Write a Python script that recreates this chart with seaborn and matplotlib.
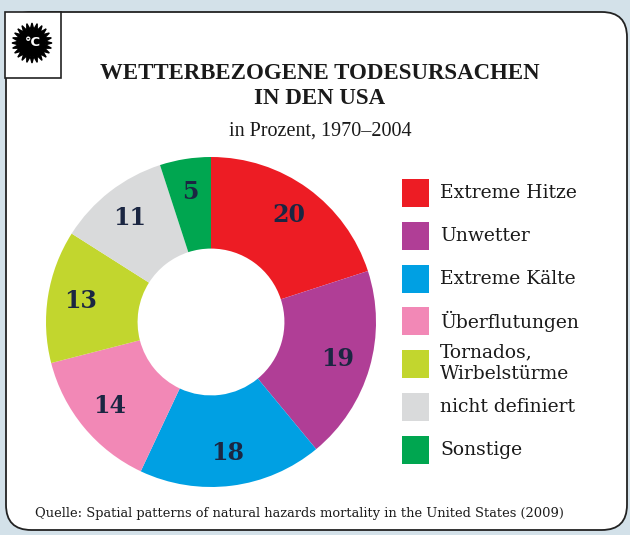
import numpy as np
import matplotlib
matplotlib.use("Agg")
import matplotlib.pyplot as plt
import seaborn as sns
from matplotlib.patches import FancyBboxPatch, Rectangle, Polygon

categories = ["Extreme Hitze", "Unwetter", "Extreme Kälte", "Überflutungen",
              "Tornados,\nWirbelstürme", "nicht definiert", "Sonstige"]
values = [20, 19, 18, 14, 13, 11, 5]
colors = ["#ed1c24", "#b03e96", "#00a0e3", "#f288b6", "#c2d62e", "#d9dadb", "#00a650"]
title = "WETTERBEZOGENE TODESURSACHEN\nIN DEN USA"
subtitle = "in Prozent, 1970–2004"
source = "Quelle: Spatial patterns of natural hazards mortality in the United States (2009)"

sns.set_theme(style="white")
plt.rcParams['font.family'] = ['Liberation Serif', 'DejaVu Serif']

W, H = 630, 535
fig = plt.figure(figsize=(W / 100, H / 100), dpi=100)
fig.patch.set_facecolor("#d3e1e9")

def fx(x):
    return x / W

def fy(y):
    return 1 - y / H

#----------------white panel with rounded corners (behind the axes)-----------------
panel = FancyBboxPatch((fx(6), fy(530)), fx(621), (530 - 12) / H,
                       boxstyle="round,pad=0,rounding_size=0.04",
                       transform=fig.transFigure, facecolor="white",
                       edgecolor="#222222", linewidth=1.3, mutation_aspect=W / H,
                       zorder=-2)
fig.patches.append(panel)
box = Rectangle((fx(5), fy(78)), fx(56), (78 - 12) / H, transform=fig.transFigure,
                facecolor="white", edgecolor="#222222", linewidth=1.2, zorder=-1)
fig.patches.append(box)

#----------------icon: spiky ball with °C-----------------
ang = np.linspace(0, 2 * np.pi, 49)[:-1]
rad = np.where(np.arange(48) % 2 == 0, 1.0, 0.68)
ix, iy = 32, 43
pts = [(fx(ix + 20 * r * np.cos(a)), fy(iy + 20 * r * np.sin(a))) for r, a in zip(rad, ang)]
fig.patches.append(Polygon(pts, closed=True, transform=fig.transFigure,
                           facecolor="black", edgecolor="black", zorder=-0.5))
fig.text(fx(ix + 1), fy(iy), "°C", color="white", fontsize=9.5, fontweight="bold",
         ha="center", va="center", family=["DejaVu Sans"])

#----------------titles-----------------
fig.text(fx(320), fy(86), title, ha="center", va="center", fontsize=16.5,
         fontweight="bold", color="#1a1a1a", linespacing=1.25)
fig.text(fx(320), fy(131), subtitle, ha="center", va="center", fontsize=14.5,
         color="#1a1a1a")
fig.text(fx(35), fy(514), source, ha="left", va="center", fontsize=9.4,
         color="#1a1a1a", family=["DejaVu Serif"])

#----------------donut-----------------
cx, cy, r = 211, 322, 165
ax = fig.add_axes([fx(cx - r), fy(cy + r), 2 * r / W, 2 * r / H])
wedges, texts = ax.pie(values, colors=colors, startangle=90, counterclock=False,
                       radius=1, labels=[str(v) for v in values], labeldistance=0.8,
                       wedgeprops=dict(width=0.555, edgecolor="none"),
                       textprops=dict(fontsize=17, fontweight="bold", color="#1b2642",
                                      ha="center", va="center",
                                      family=["DejaVu Serif"]))
ax.set_xlim(-1, 1)
ax.set_ylim(-1, 1)
ax.set_aspect("equal")
ax.axis("off")

#----------------legend (squares on a fixed pitch, like the original)-----------------
y0, step = 193, 42.8
for i, (cat, col) in enumerate(zip(categories, colors)):
    yc = y0 + i * step
    fig.patches.append(Rectangle((fx(402), fy(yc + 14)), 27 / W, 28 / H,
                                 transform=fig.transFigure, facecolor=col,
                                 edgecolor="none"))
    fig.text(fx(440), fy(yc - (1 if "\n" in cat else 0)), cat, ha="left", va="center",
             fontsize=13.5, color="#1a1a1a", family=["DejaVu Serif"], linespacing=1.3)

fig.savefig("out.png", dpi=100, facecolor=fig.get_facecolor())
